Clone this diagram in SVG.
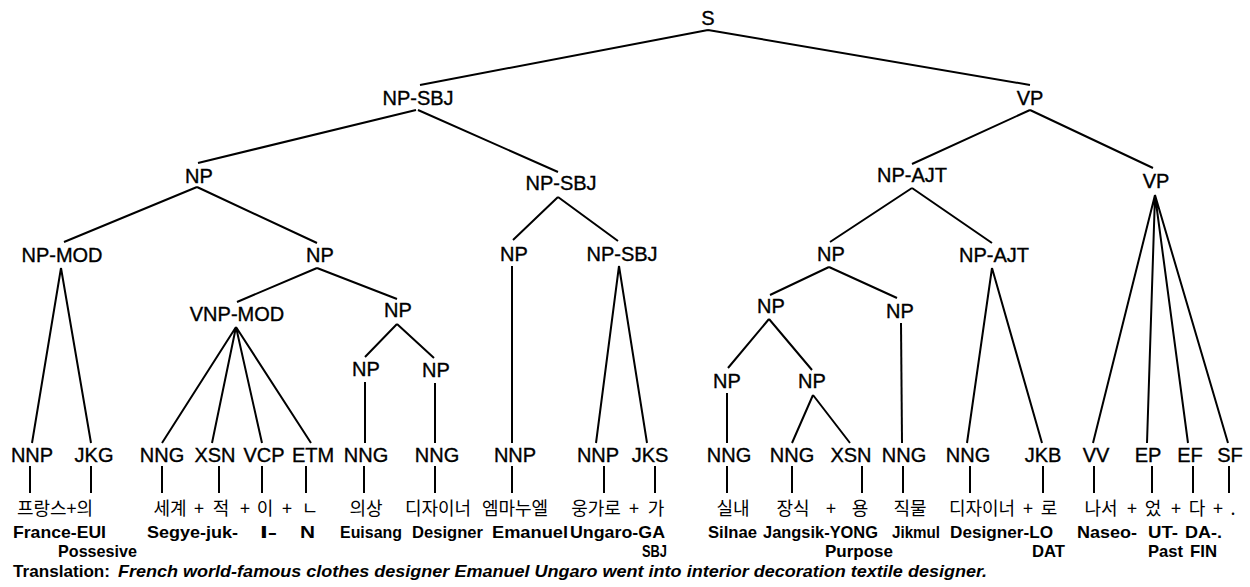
<svg xmlns="http://www.w3.org/2000/svg" width="1250" height="587" viewBox="0 0 1250 587">
  <style>
    .lbl { font-family: "Liberation Sans", Arial, sans-serif; font-size: 20px; fill: #000; stroke: #000; stroke-width: 0.35; text-anchor: middle; }
    .kr { font-family: "Noto Sans CJK KR", "Liberation Sans", sans-serif; font-size: 18px; fill: #000; text-anchor: middle; }
    .rom { font-family: "Liberation Sans", Arial, "Noto Sans CJK KR", sans-serif; font-size: 17px; font-weight: bold; fill: #000; }
    .tr { font-family: "Liberation Sans", Arial, "Noto Sans CJK KR", sans-serif; font-size: 17px; font-weight: bold; fill: #000; }
    .edge { stroke: #000; stroke-width: 2; fill: none; }
  </style>
  <rect width="1250" height="587" fill="#fff"/>

  <!-- tree branches and leaf ticks -->
  <g id="connectors" class="edge">
    <path d="M708,30 L420,85 M708,30 L1030,85"/>
    <path d="M416,110 L198,163 M418,110 L558,172"/>
    <path d="M1030,110 L912,164 M1030,110 L1153,168"/>
    <path d="M197,187 L64,242 M197,187 L317,243"/>
    <path d="M558,197 L513,240 M558,197 L618,241"/>
    <path d="M912,188 L830,242 M912,188 L992,243"/>
    <path d="M1155,195 L1093,443 M1155,195 L1147,443 M1155,195 L1188,443 M1155,195 L1228,443"/>
    <path d="M61,268 L32,443 M61,268 L91,443"/>
    <path d="M317,268 L237,302 M317,268 L397,299"/>
    <path d="M512,266 L512,443"/>
    <path d="M619,266 L596,443 M619,266 L647,443"/>
    <path d="M829,267 L770,295 M829,267 L897,298"/>
    <path d="M992,268 L967,443 M992,268 L1042,443"/>
    <path d="M236,327 L162,443 M236,327 L212,443 M236,327 L262,443 M236,327 L311,443"/>
    <path d="M397,324 L365,357 M397,324 L434,358"/>
    <path d="M769,319 L728,368 M769,319 L812,370"/>
    <path d="M901,323 L902,443"/>
    <path d="M365,382 L365,443"/>
    <path d="M435,383 L435,443"/>
    <path d="M727,393 L727,443"/>
    <path d="M813,395 L792,443 M813,395 L850,443"/>
    <!-- ticks from POS tags down to the morphemes -->
    <path d="M30,466 V493 M91,466 V493 M162,466 V493 M219,466 V493 M262,466 V493 M306,466 V493 M364,466 V493 M435,466 V493 M512,466 V493 M604,466 V493 M655,466 V493 M727,466 V493 M792,466 V493 M862,466 V493 M903,466 V493 M970,466 V493 M1043,466 V493 M1094,466 V493 M1152,466 V493 M1193,466 V493 M1229,466 V493"/>
  </g>

  <!-- phrase nodes -->
  <g id="n-S"><text class="lbl" x="708" y="25">S</text></g>
  <g id="n-NPSBJ1"><text class="lbl" x="418" y="105">NP-SBJ</text></g>
  <g id="n-VP1"><text class="lbl" x="1030" y="105">VP</text></g>
  <g id="n-NP2"><text class="lbl" x="199" y="183">NP</text></g>
  <g id="n-NPSBJ2"><text class="lbl" x="561" y="190">NP-SBJ</text></g>
  <g id="n-NPAJT2"><text class="lbl" x="912" y="182">NP-AJT</text></g>
  <g id="n-VP2"><text class="lbl" x="1156" y="188">VP</text></g>
  <g id="n-NPMOD"><text class="lbl" x="62" y="262">NP-MOD</text></g>
  <g id="n-NP3a"><text class="lbl" x="320" y="262">NP</text></g>
  <g id="n-NP3b"><text class="lbl" x="514" y="261">NP</text></g>
  <g id="n-NPSBJ3"><text class="lbl" x="622" y="261">NP-SBJ</text></g>
  <g id="n-NP3c"><text class="lbl" x="831" y="261">NP</text></g>
  <g id="n-NPAJT3"><text class="lbl" x="994" y="262">NP-AJT</text></g>
  <g id="n-VNPMOD"><text class="lbl" x="237" y="321">VNP-MOD</text></g>
  <g id="n-NP4a"><text class="lbl" x="398" y="317">NP</text></g>
  <g id="n-NP4b"><text class="lbl" x="771" y="313">NP</text></g>
  <g id="n-NP4c"><text class="lbl" x="900" y="318">NP</text></g>
  <g id="n-NP5a"><text class="lbl" x="366" y="376">NP</text></g>
  <g id="n-NP5b"><text class="lbl" x="436" y="377">NP</text></g>
  <g id="n-NP5c"><text class="lbl" x="727" y="388">NP</text></g>
  <g id="n-NP5d"><text class="lbl" x="812" y="388">NP</text></g>

  <!-- part-of-speech leaves -->
  <g id="l01"><text class="lbl" x="32" y="462">NNP</text></g>
  <g id="l02"><text class="lbl" x="94" y="462">JKG</text></g>
  <g id="l03"><text class="lbl" x="162" y="462">NNG</text></g>
  <g id="l04"><text class="lbl" x="215" y="462">XSN</text></g>
  <g id="l05"><text class="lbl" x="264" y="462">VCP</text></g>
  <g id="l06"><text class="lbl" x="313" y="462">ETM</text></g>
  <g id="l07"><text class="lbl" x="366" y="462">NNG</text></g>
  <g id="l08"><text class="lbl" x="437" y="462">NNG</text></g>
  <g id="l09"><text class="lbl" x="515" y="462">NNP</text></g>
  <g id="l10"><text class="lbl" x="598" y="462">NNP</text></g>
  <g id="l11"><text class="lbl" x="650" y="462">JKS</text></g>
  <g id="l12"><text class="lbl" x="729" y="462">NNG</text></g>
  <g id="l13"><text class="lbl" x="792" y="462">NNG</text></g>
  <g id="l14"><text class="lbl" x="851" y="462">XSN</text></g>
  <g id="l15"><text class="lbl" x="904" y="462">NNG</text></g>
  <g id="l16"><text class="lbl" x="968" y="462">NNG</text></g>
  <g id="l17"><text class="lbl" x="1043" y="462">JKB</text></g>
  <g id="l18"><text class="lbl" x="1096" y="462">VV</text></g>
  <g id="l19"><text class="lbl" x="1148" y="462">EP</text></g>
  <g id="l20"><text class="lbl" x="1190" y="462">EF</text></g>
  <g id="l21"><text class="lbl" x="1230" y="462">SF</text></g>

  <!-- Korean morphemes -->
  <g id="morphemes">
    <text class="kr" x="55" y="515">프랑스+의</text>
    <text class="kr" x="170" y="515">세계</text>
    <text class="kr" x="199" y="515">+</text>
    <text class="kr" x="221" y="515">적</text>
    <text class="kr" x="245" y="515">+</text>
    <text class="kr" x="265" y="515">이</text>
    <text class="kr" x="287" y="515">+</text>
    <text class="kr" x="310" y="515">ㄴ</text>
    <text class="kr" x="366" y="515">의상</text>
    <text class="kr" x="438" y="515">디자이너</text>
    <text class="kr" x="515" y="515">엠마누엘</text>
    <text class="kr" x="596" y="515">웅가로</text>
    <text class="kr" x="634" y="515">+</text>
    <text class="kr" x="656" y="515">가</text>
    <text class="kr" x="733" y="515">실내</text>
    <text class="kr" x="793" y="515">장식</text>
    <text class="kr" x="831" y="515">+</text>
    <text class="kr" x="860" y="515">용</text>
    <text class="kr" x="910" y="515">직물</text>
    <text class="kr" x="982" y="515">디자이너</text>
    <text class="kr" x="1028" y="515">+</text>
    <text class="kr" x="1049" y="515">로</text>
    <text class="kr" x="1101" y="515">나서</text>
    <text class="kr" x="1132" y="515">+</text>
    <text class="kr" x="1153" y="515">었</text>
    <text class="kr" x="1176" y="515">+</text>
    <text class="kr" x="1197" y="515">다</text>
    <text class="kr" x="1218" y="515">+</text>
    <text class="kr" x="1233" y="515">.</text>
  </g>

  <!-- romanized glosses -->
  <g id="glosses">
    <text class="rom" x="13" y="538" textLength="93" lengthAdjust="spacingAndGlyphs">France-EUI</text>
    <text class="rom" x="147" y="538" textLength="91" lengthAdjust="spacingAndGlyphs">Segye-juk-</text>
    <text class="rom" x="260" y="538" textLength="17" lengthAdjust="spacingAndGlyphs">I-</text>
    <text class="rom" x="300" y="538" textLength="15" lengthAdjust="spacingAndGlyphs">N</text>
    <text class="rom" x="340" y="538" textLength="62" lengthAdjust="spacingAndGlyphs">Euisang</text>
    <text class="rom" x="412" y="538" textLength="71" lengthAdjust="spacingAndGlyphs">Designer</text>
    <text class="rom" x="492" y="538" textLength="76" lengthAdjust="spacingAndGlyphs">Emanuel</text>
    <text class="rom" x="570" y="538" textLength="95" lengthAdjust="spacingAndGlyphs">Ungaro-GA</text>
    <text class="rom" x="708" y="538" textLength="49" lengthAdjust="spacingAndGlyphs">Silnae</text>
    <text class="rom" x="763" y="538" textLength="115" lengthAdjust="spacingAndGlyphs">Jangsik-YONG</text>
    <text class="rom" x="892" y="538" textLength="48" lengthAdjust="spacingAndGlyphs">Jikmul</text>
    <text class="rom" x="950" y="538" textLength="103" lengthAdjust="spacingAndGlyphs">Designer-LO</text>
    <text class="rom" x="1077" y="538" textLength="60" lengthAdjust="spacingAndGlyphs">Naseo-</text>
    <text class="rom" x="1148" y="538" textLength="30" lengthAdjust="spacingAndGlyphs">UT-</text>
    <text class="rom" x="1185" y="538" textLength="37" lengthAdjust="spacingAndGlyphs">DA-.</text>
    <text class="rom" x="58" y="557" textLength="79" lengthAdjust="spacingAndGlyphs">Possesive</text>
    <text class="rom" x="642" y="557" textLength="25" lengthAdjust="spacingAndGlyphs">SBJ</text>
    <text class="rom" x="825" y="557" textLength="68" lengthAdjust="spacingAndGlyphs">Purpose</text>
    <text class="rom" x="1032" y="557" textLength="33" lengthAdjust="spacingAndGlyphs">DAT</text>
    <text class="rom" x="1148" y="557" textLength="35" lengthAdjust="spacingAndGlyphs">Past</text>
    <text class="rom" x="1190" y="557" textLength="27" lengthAdjust="spacingAndGlyphs">FIN</text>
  </g>

  <!-- free translation -->
  <g id="translation">
    <text class="tr" x="13" y="577" textLength="97" lengthAdjust="spacingAndGlyphs">Translation:</text>
    <text class="tr" x="118" y="577" font-style="italic" textLength="869" lengthAdjust="spacingAndGlyphs">French world-famous clothes designer Emanuel Ungaro went into interior decoration textile designer.</text>
  </g>
</svg>
